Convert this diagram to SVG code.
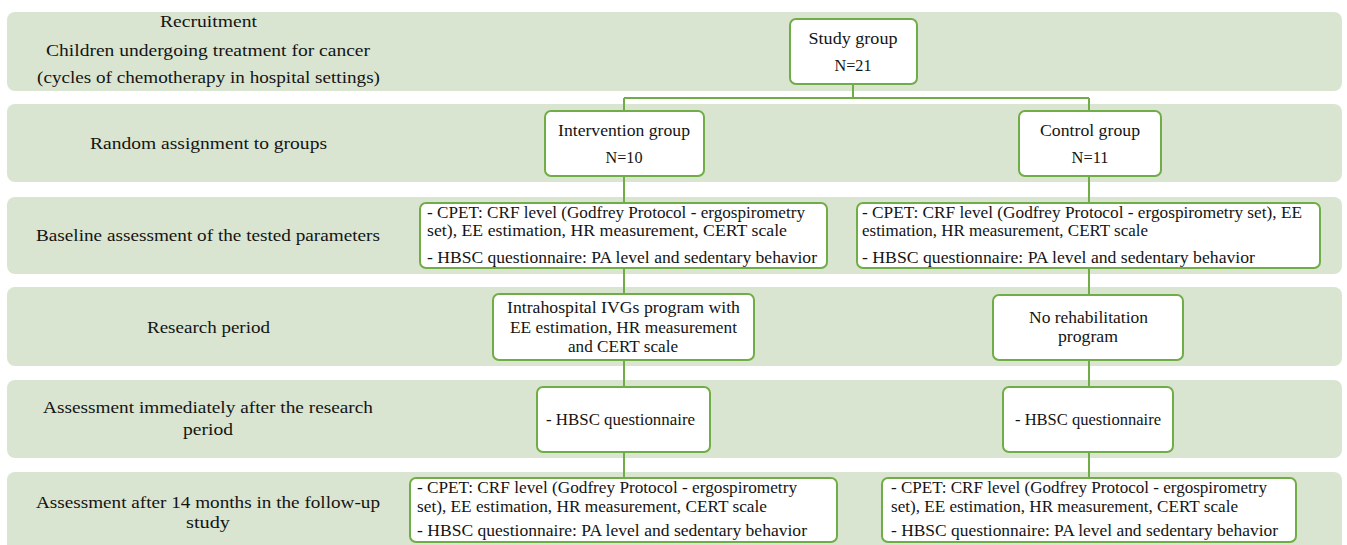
<svg xmlns="http://www.w3.org/2000/svg" width="1347" height="545" viewBox="0 0 1347 545">
<style>
.band{fill:#d9e5d0;}
.box{fill:#ffffff;stroke:#70ad47;stroke-width:2;}
.conn{stroke:#70ad47;stroke-width:2;fill:none;}
text{font-family:"Liberation Serif","Times New Roman",serif;font-size:16.8px;fill:#141414;}
</style>
<rect width="1347" height="545" fill="#ffffff"/>
<g id="bands">
<rect class="band" x="7" y="12" width="1335" height="79" rx="8"/>
<rect class="band" x="7" y="104" width="1335" height="78" rx="8"/>
<rect class="band" x="7" y="197" width="1335" height="77" rx="8"/>
<rect class="band" x="7" y="287" width="1335" height="79" rx="8"/>
<rect class="band" x="7" y="380" width="1335" height="78" rx="8"/>
<rect class="band" x="7" y="472" width="1335" height="85" rx="8"/>
</g>
<g id="labels">
<text x="160" y="27" textLength="97" lengthAdjust="spacingAndGlyphs">Recruitment</text>
<text x="46" y="56" textLength="324" lengthAdjust="spacingAndGlyphs">Children undergoing treatment for cancer</text>
<text x="37" y="83" textLength="343" lengthAdjust="spacingAndGlyphs">(cycles of chemotherapy in hospital settings)</text>
<text x="90" y="149" textLength="237" lengthAdjust="spacingAndGlyphs">Random assignment to groups</text>
<text x="36" y="241" textLength="344" lengthAdjust="spacingAndGlyphs">Baseline assessment of the tested parameters</text>
<text x="147" y="333" textLength="123" lengthAdjust="spacingAndGlyphs">Research period</text>
<text x="43" y="413" textLength="330" lengthAdjust="spacingAndGlyphs">Assessment immediately after the research</text>
<text x="183" y="435" textLength="50" lengthAdjust="spacingAndGlyphs">period</text>
<text x="36" y="508" textLength="344" lengthAdjust="spacingAndGlyphs">Assessment after 14 months in the follow-up</text>
<text x="186" y="528" textLength="44" lengthAdjust="spacingAndGlyphs">study</text>
</g>
<g id="connectors">
<path class="conn" d="M853 84 V98 M624 98 H1089 M624 98 V111 M1089 98 V111"/>
<path class="conn" d="M624 176 V203 M624 268 V294 M624 360 V387 M624 452 V478"/>
<path class="conn" d="M1089 176 V203 M1089 268 V295 M1089 360 V387 M1089 452 V478"/>
</g>
<g id="study-group">
<rect class="box" x="790" y="19" width="127" height="65" rx="6"/>
<text x="808.5" y="44" textLength="89" lengthAdjust="spacingAndGlyphs">Study group</text>
<text x="834.5" y="71" textLength="37" lengthAdjust="spacingAndGlyphs">N=21</text>
</g>
<g id="intervention-group">
<rect class="box" x="545" y="111" width="159" height="65" rx="6"/>
<text x="558" y="136" textLength="132" lengthAdjust="spacingAndGlyphs">Intervention group</text>
<text x="605.5" y="163" textLength="37" lengthAdjust="spacingAndGlyphs">N=10</text>
</g>
<g id="control-group">
<rect class="box" x="1019" y="111" width="142" height="65" rx="6"/>
<text x="1040" y="136" textLength="100" lengthAdjust="spacingAndGlyphs">Control group</text>
<text x="1071.5" y="163" textLength="37" lengthAdjust="spacingAndGlyphs">N=11</text>
</g>
<g id="baseline-intervention">
<rect class="box" x="420" y="203" width="407" height="65" rx="6"/>
<text x="427" y="218" textLength="378" lengthAdjust="spacingAndGlyphs">- CPET: CRF level (Godfrey Protocol - ergospirometry</text>
<text x="427" y="236" textLength="360" lengthAdjust="spacingAndGlyphs">set), EE estimation, HR measurement, CERT scale</text>
<text x="427" y="263" textLength="390" lengthAdjust="spacingAndGlyphs">- HBSC questionnaire: PA level and sedentary behavior</text>
</g>
<g id="baseline-control">
<rect class="box" x="857" y="203" width="463" height="65" rx="6"/>
<text x="862" y="218" textLength="440" lengthAdjust="spacingAndGlyphs">- CPET: CRF level (Godfrey Protocol - ergospirometry set), EE</text>
<text x="862" y="236" textLength="286" lengthAdjust="spacingAndGlyphs">estimation, HR measurement, CERT scale</text>
<text x="862" y="263" textLength="393" lengthAdjust="spacingAndGlyphs">- HBSC questionnaire: PA level and sedentary behavior</text>
</g>
<g id="research-intervention">
<rect class="box" x="493" y="294" width="261" height="66" rx="6"/>
<text x="507" y="313" textLength="233" lengthAdjust="spacingAndGlyphs">Intrahospital IVGs program with</text>
<text x="510" y="333" textLength="227" lengthAdjust="spacingAndGlyphs">EE estimation, HR measurement</text>
<text x="568" y="352" textLength="110" lengthAdjust="spacingAndGlyphs">and CERT scale</text>
</g>
<g id="research-control">
<rect class="box" x="993" y="295" width="190" height="65" rx="6"/>
<text x="1029" y="323" textLength="119" lengthAdjust="spacingAndGlyphs">No rehabilitation</text>
<text x="1058" y="342" textLength="60" lengthAdjust="spacingAndGlyphs">program</text>
</g>
<g id="post-intervention">
<rect class="box" x="537" y="387" width="173" height="65" rx="6"/>
<text x="546" y="425" textLength="149" lengthAdjust="spacingAndGlyphs">- HBSC questionnaire</text>
</g>
<g id="post-control">
<rect class="box" x="1003" y="387" width="170" height="65" rx="6"/>
<text x="1015" y="425" textLength="146" lengthAdjust="spacingAndGlyphs">- HBSC questionnaire</text>
</g>
<g id="followup-intervention">
<rect class="box" x="410" y="478" width="427" height="64" rx="6"/>
<text x="417" y="493" textLength="380" lengthAdjust="spacingAndGlyphs">- CPET: CRF level (Godfrey Protocol - ergospirometry</text>
<text x="417" y="512" textLength="350" lengthAdjust="spacingAndGlyphs">set), EE estimation, HR measurement, CERT scale</text>
<text x="417" y="536" textLength="390" lengthAdjust="spacingAndGlyphs">- HBSC questionnaire: PA level and sedentary behavior</text>
</g>
<g id="followup-control">
<rect class="box" x="882" y="478" width="414" height="64" rx="6"/>
<text x="891" y="493" textLength="376" lengthAdjust="spacingAndGlyphs">- CPET: CRF level (Godfrey Protocol - ergospirometry</text>
<text x="891" y="512" textLength="347" lengthAdjust="spacingAndGlyphs">set), EE estimation, HR measurement, CERT scale</text>
<text x="891" y="536" textLength="387" lengthAdjust="spacingAndGlyphs">- HBSC questionnaire: PA level and sedentary behavior</text>
</g>
</svg>
